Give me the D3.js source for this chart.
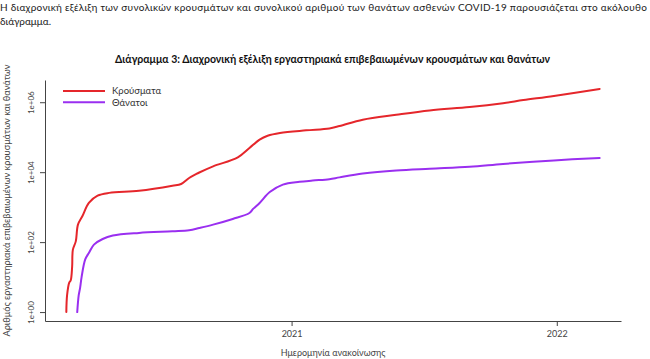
<!DOCTYPE html>
<html>
<head>
<meta charset="utf-8">
<script src="https://cdn.jsdelivr.net/npm/d3@7/dist/d3.min.js"></script>
<style>
  html, body { margin: 0; padding: 0; background: #fff; }
  svg { display: block; }
</style>
</head>
<body>
<svg id="chart" width="650" height="359"></svg>
<script>
// ---- data ----
const caseDates = ["2020-02-26","2020-02-27","2020-03-01","2020-03-03","2020-03-05","2020-03-06","2020-03-10","2020-03-13","2020-03-19","2020-03-28","2020-04-09","2020-04-25","2020-06-05","2020-07-21","2020-08-02","2020-08-13","2020-08-23","2020-08-27","2020-09-15","2020-10-19","2020-11-04","2020-11-18","2020-11-29","2020-12-16","2021-01-21","2021-02-22","2021-03-08","2021-04-09","2021-05-25","2021-07-10","2021-09-03","2021-10-19","2021-11-16","2021-12-28","2022-03-01"];
const caseValues = [1,3,7,8,20,61,105,316,550,1320,2130,2560,2950,4100,4600,6800,8900,9800,14700,26500,49000,85000,110000,132000,157000,178000,208000,316000,437000,583000,730000,940000,1150000,1510000,2400000];

const deathDates = ["2020-03-12","2020-03-14","2020-03-16","2020-03-18","2020-03-23","2020-03-28","2020-04-04","2020-04-16","2020-04-30","2020-06-05","2020-07-21","2020-08-13","2020-08-27","2020-09-15","2020-10-12","2020-11-04","2020-11-09","2020-11-18","2020-12-02","2020-12-20","2021-01-12","2021-01-30","2021-02-22","2021-03-08","2021-04-09","2021-05-25","2021-07-10","2021-09-03","2021-10-19","2021-12-28","2022-03-01"];
const deathValues = [1,3,5,10,32,49,85,123,154,183,204,218,253,316,460,680,890,1320,2700,4400,5300,5750,6300,7100,9100,11200,12600,14300,17200,21700,25500];

const seriesNames = ["Κρούσματα", "Θάνατοι"];
const seriesColors = ["#e5262b", "#9a2ff0"];
const xTickLabels = ["2021", "2022"];
const yTickValues = [1, 100, 10000, 1000000];
const yTickLabels = ["1e+00", "1e+02", "1e+04", "1e+06"];

const introLines = [
  "Η διαχρονική εξέλιξη των συνολικών κρουσμάτων και συνολικού αριθμού των θανάτων ασθενών COVID-19 παρουσιάζεται στο ακόλουθο",
  "διάγραμμα."
];
const titleText = "Διάγραμμα 3: Διαχρονική εξέλιξη εργαστηριακά επιβεβαιωμένων κρουσμάτων και θανάτων";
const xTitle = "Ημερομηνία ανακοίνωσης";
const yTitle = "Αριθμός εργαστηριακά επιβεβαιωμένων κρουσμάτων και θανάτων";

// ---- setup ----
const parse = d3.utcParse("%Y-%m-%d");
const series = [
  caseDates.map((d, i) => ({ date: parse(d), value: caseValues[i] })),
  deathDates.map((d, i) => ({ date: parse(d), value: deathValues[i] }))
];

const svg = d3.select("#chart");
const font = "Lato, 'Open Sans', sans-serif";

const plot = { left: 45, right: 621, top: 80, bottom: 321 };

// x domain with R-style 4% padding
const allDates = series.flat().map(d => d.date);
const [dMin, dMax] = d3.extent(allDates);
const padT = (dMax - dMin) * 0.04;
const x = d3.scaleUtc()
  .domain([new Date(+dMin - padT), new Date(+dMax + padT)])
  .range([plot.left, plot.right]);

// y domain (log) with 4% padding in log space
const allVals = series.flat().map(d => d.value);
const [lMin, lMax] = d3.extent(allVals).map(Math.log10);
const padL = (lMax - lMin) * 0.04;
const y = d3.scaleLog()
  .domain([Math.pow(10, lMin - padL), Math.pow(10, lMax + padL)])
  .range([plot.bottom, plot.top]);

// ---- intro paragraph ----
svg.append("text")
  .attr("x", 0).attr("y", 11)
  .attr("textLength", 647).attr("lengthAdjust", "spacing")
  .style("font-family", font).style("font-size", "10px").style("fill", "#1a1a1a")
  .text(introLines[0]);
svg.append("text")
  .attr("x", 0).attr("y", 25)
  .style("font-family", font).style("font-size", "10px").style("fill", "#1a1a1a")
  .text(introLines[1]);

// ---- title ----
svg.append("text")
  .attr("x", 332.5).attr("y", 63)
  .attr("text-anchor", "middle")
  .attr("textLength", 435).attr("lengthAdjust", "spacingAndGlyphs")
  .style("font-family", font).style("font-size", "11px").style("font-weight", "bold").style("fill", "#111")
  .text(titleText);

// ---- axes ----
const yAxis = d3.axisLeft(y)
  .tickValues(yTickValues)
  .tickFormat((d, i) => yTickLabels[i])
  .tickSize(5).tickSizeOuter(0);
const gy = svg.append("g")
  .attr("transform", `translate(${plot.left},0)`)
  .call(yAxis);
gy.selectAll("text")
  .attr("x", 0).attr("dy", "0.35em")
  .attr("text-anchor", "middle")
  .attr("transform", "translate(-14,0) rotate(-90)")
  .style("font-family", font).style("font-size", "8px").style("fill", "#444");

const xTickDates = xTickLabels.map(s => parse(s + "-01-01"));
const xAxis = d3.axisBottom(x)
  .tickValues(xTickDates)
  .tickFormat((d, i) => xTickLabels[i])
  .tickSize(5).tickSizeOuter(0);
const gx = svg.append("g")
  .attr("transform", `translate(0,${plot.bottom})`)
  .call(xAxis);
gx.selectAll("text")
  .attr("y", 10)
  .style("font-family", font).style("font-size", "9px").style("fill", "#444");

[gx, gy].forEach(g => {
  g.select(".domain").attr("stroke", "#444").attr("stroke-width", 1);
  g.selectAll(".tick line").attr("stroke", "#444");
});

// axis titles
svg.append("text")
  .attr("x", 333).attr("y", 356)
  .attr("text-anchor", "middle")
  .style("font-family", font).style("font-size", "9px").style("fill", "#444")
  .text(xTitle);
svg.append("text")
  .attr("transform", `translate(10,${(plot.top + plot.bottom) / 2}) rotate(-90)`)
  .attr("text-anchor", "middle")
  .attr("textLength", 272).attr("lengthAdjust", "spacingAndGlyphs")
  .style("font-family", font).style("font-size", "9.5px").style("fill", "#444")
  .text(yTitle);

// ---- lines ----
const line = d3.line()
  .x(d => x(d.date))
  .y(d => y(d.value))
  .curve(d3.curveCatmullRom.alpha(0.5));

series.forEach((s, i) => {
  svg.append("path")
    .datum(s)
    .attr("fill", "none")
    .attr("stroke", seriesColors[i])
    .attr("stroke-width", 2)
    .attr("stroke-linejoin", "round")
    .attr("stroke-linecap", "round")
    .attr("d", line);
});

// ---- legend ----
const legend = svg.append("g");
seriesNames.forEach((name, i) => {
  const yy = 91 + i * 11.3;
  legend.append("line")
    .attr("x1", 63).attr("x2", 105).attr("y1", yy).attr("y2", yy)
    .attr("stroke", seriesColors[i]).attr("stroke-width", 2);
  legend.append("text")
    .attr("x", 112).attr("y", yy).attr("dy", "0.35em")
    .style("font-family", font).style("font-size", "9.5px").style("fill", "#333")
    .text(name);
});
</script>
</body>
</html>
